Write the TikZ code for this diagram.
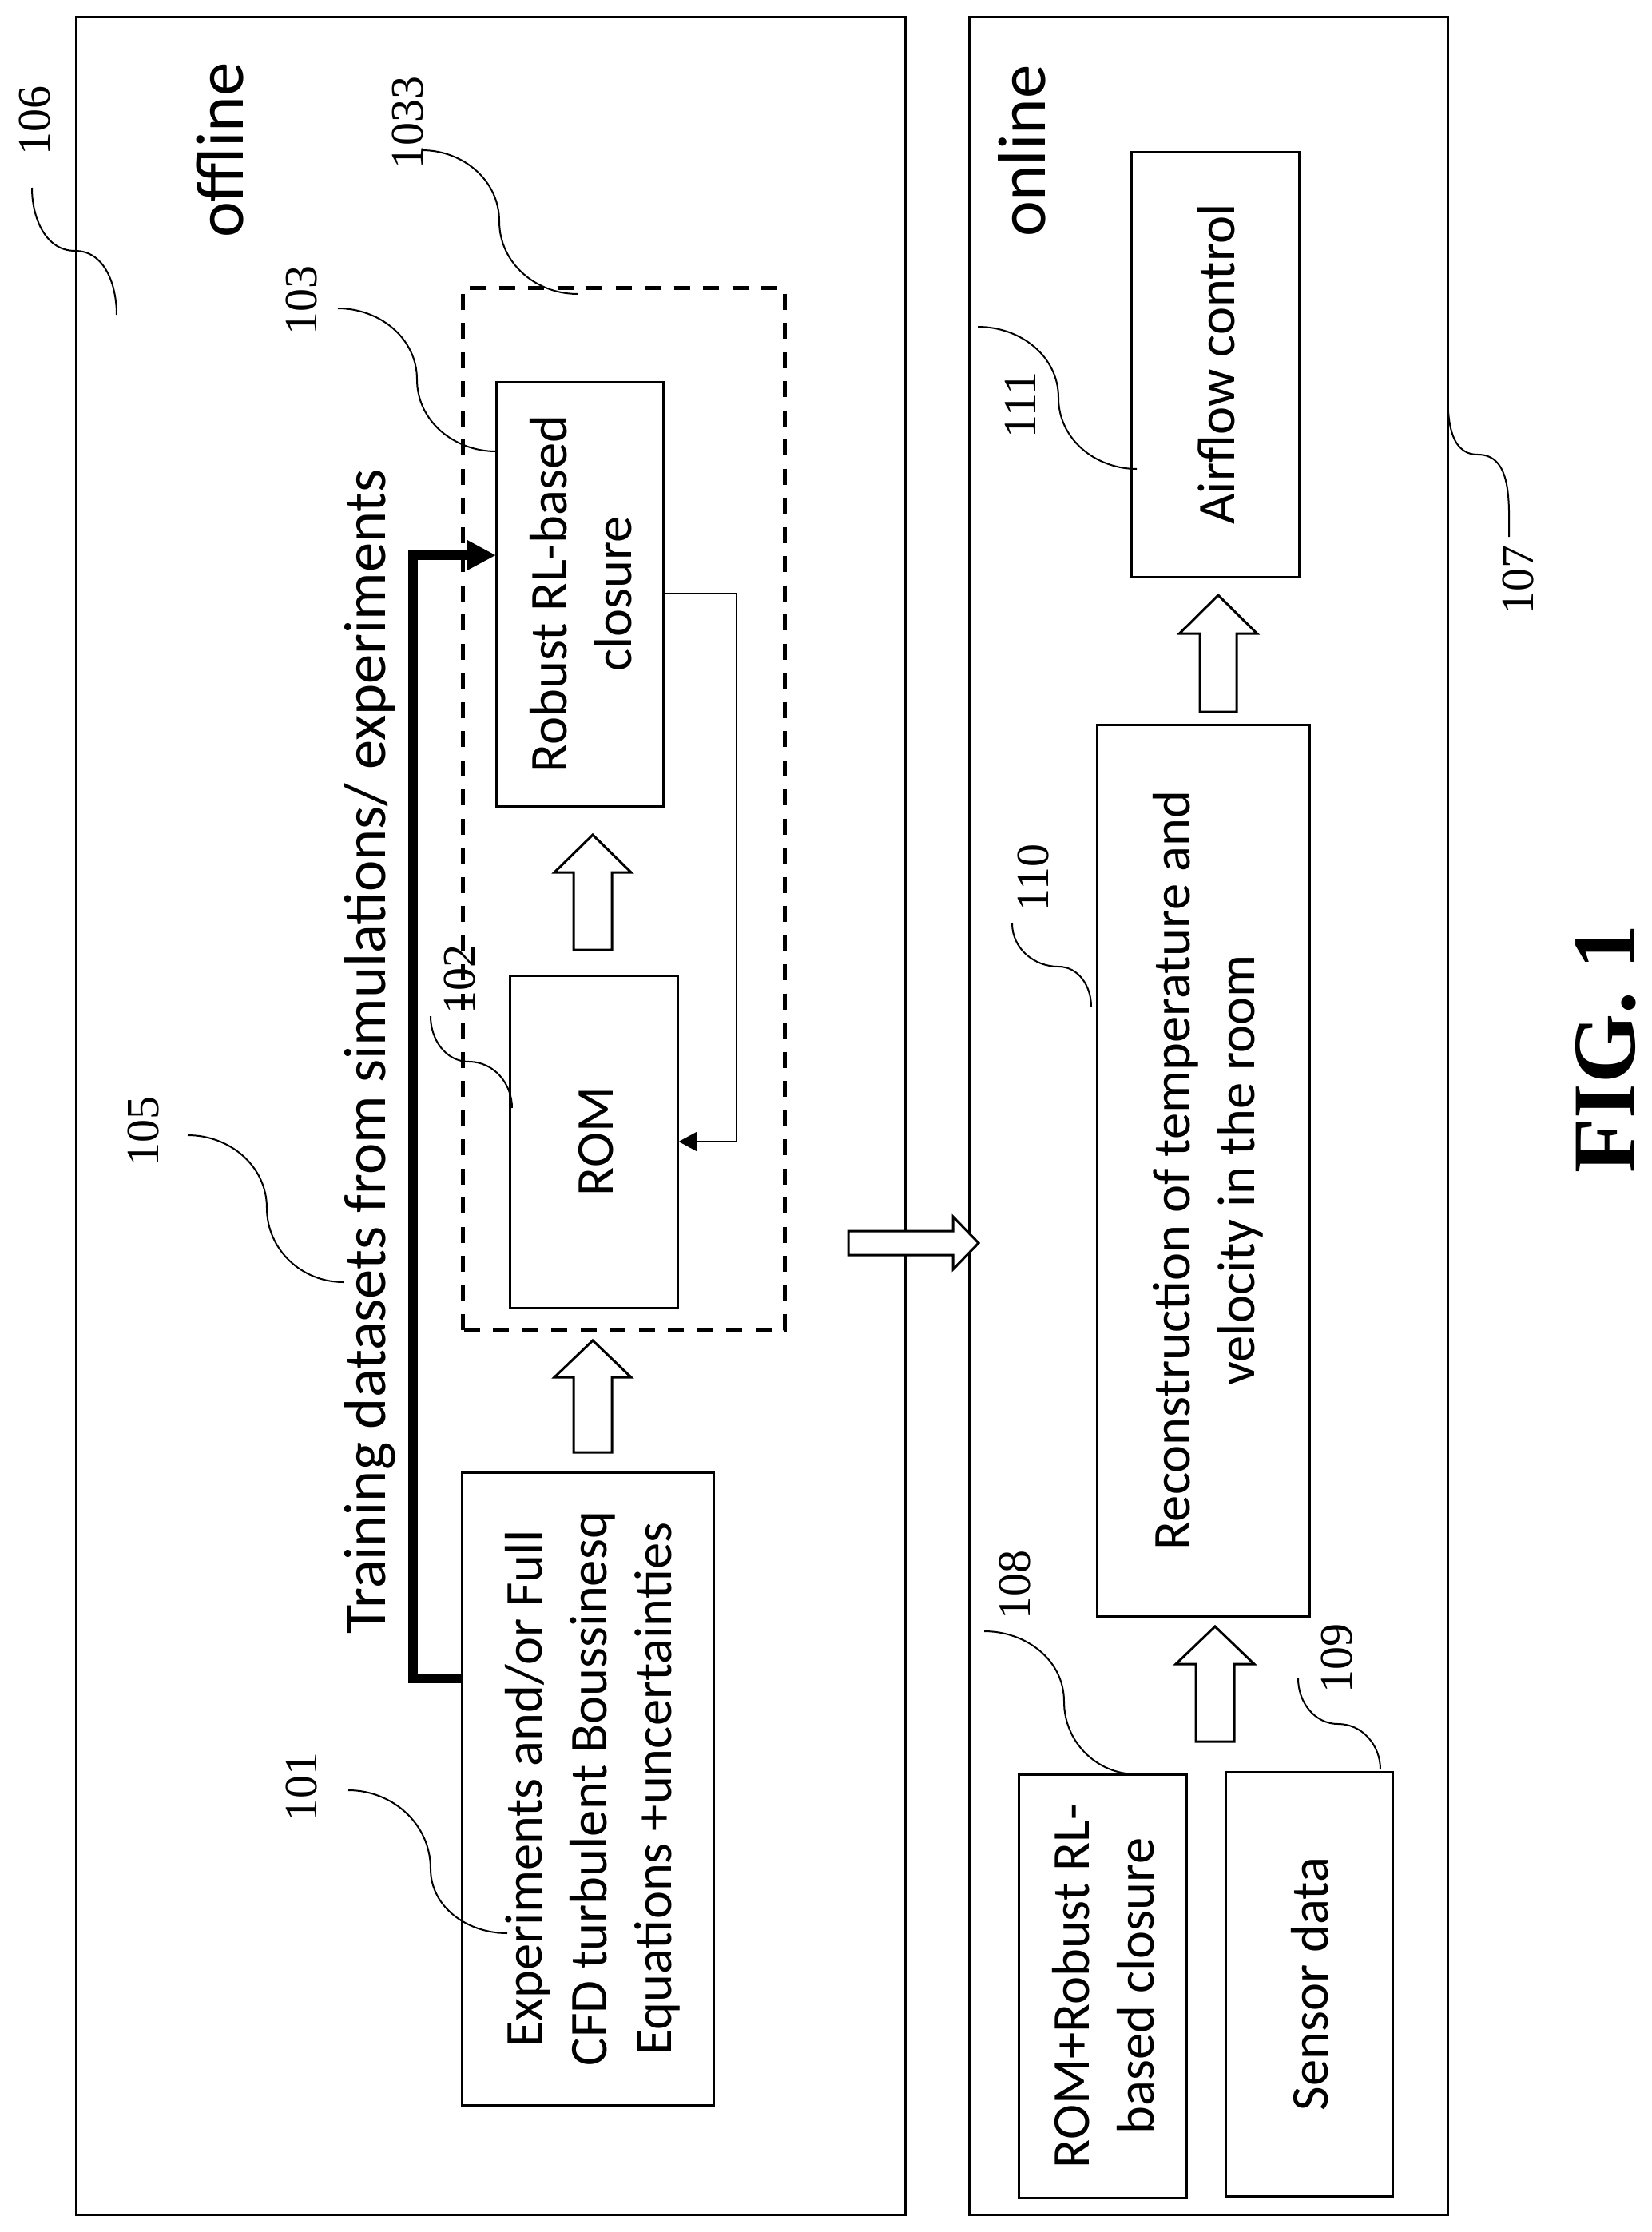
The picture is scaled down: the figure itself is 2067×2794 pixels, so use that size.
\documentclass[tikz,border=0pt]{standalone}
\usepackage{fontspec}
\usetikzlibrary{arrows.meta}
\setmainfont{Carlito}
\newfontfamily\numfont{Liberation Serif}
\newcommand{\rt}[1]{\kern16pt\rotatebox{90}{\begin{tabular}{@{}c@{}}#1\end{tabular}}}
\newcommand{\blockup}[6]{\draw[blockarrow] (#1,#2) -- (#1+#5,#3) -- (#1+#6,#3) -- (#1+#6,#4) -- (#1-#6,#4) -- (#1-#6,#3) -- (#1-#5,#3) -- cycle;}
\tikzset{
 frame/.style={draw=black,line width=3pt,fill=none},
 boxn/.style={draw=black,line width=3pt,fill=white,inner sep=0pt,font=\fontsize{66.5}{81}\selectfont},
 blockarrow/.style={draw=black,line width=3pt,fill=white,miter limit=10},
 leader/.style={draw=black,line width=2pt},
 num/.style={font=\numfont\fontsize{58}{58}\selectfont,rotate=90,inner sep=0pt},
 captxt/.style={font=\fontsize{74.5}{74.5}\selectfont,rotate=90,inner sep=0pt},
 captbig/.style={font=\fontsize{85}{85}\selectfont,rotate=90,inner sep=0pt},
}
\begin{document}
\begin{tikzpicture}[x=1pt,y=-1pt]
\useasboundingbox (0,0) rectangle (2067,2794);
\node[frame,minimum width=1038pt,minimum height=2750pt,inner sep=0pt] (offbox) at (614,1397) {};
\node[frame,minimum width=599pt,minimum height=2750pt,inner sep=0pt] (onbox) at (1512.5,1397) {};
\draw[black,line width=5pt,dash pattern=on 20pt off 16.5pt] (579,1665) -- (579,360) -- (982,360) -- (982,1665) -- cycle;
\node[boxn,minimum width=209pt,minimum height=531pt] (closure) at (725.5,743.5) {\rt{Robust RL-based\\closure}};
\node[boxn,minimum width=210pt,minimum height=416pt] (rom) at (743,1429) {\rt{ROM}};
\node[boxn,minimum width=315pt,minimum height=792pt] (exp) at (735.5,2239) {\rt{Experiments and/or Full\\CFD turbulent Boussinesq\\Equations +uncertainties}};
\node[boxn,minimum width=210pt,minimum height=532pt] (air) at (1521,456) {\rt{Airflow control}};
\node[boxn,minimum width=266pt,minimum height=1116pt] (recon) at (1506,1465) {\rt{Reconstruction of temperature and\\velocity in the room}};
\node[boxn,minimum width=210pt,minimum height=530pt] (romplus) at (1380,2486) {\rt{ROM+Robust RL-\\based closure}};
\node[boxn,minimum width=209pt,minimum height=531pt] (sensor) at (1638.5,2483.5) {\rt{Sensor data}};
\blockup{742}{1045}{1092}{1189}{48}{24}
\blockup{742}{1678}{1724}{1818}{48}{24}
\blockup{1521}{2036}{2083}{2180}{49}{24}
\blockup{1525}{745}{793}{891}{48.5}{23}
\draw[blockarrow] (1225,1556) -- (1193,1523) -- (1193,1541) -- (1062,1541) -- (1062,1571) -- (1193,1571) -- (1193,1589) -- cycle;
\coordinate (ts) at (578,2101);
\coordinate (tb) at (517,2101);
\coordinate (tt) at (517,695);
\coordinate (te) at (621,695);
\draw[line width=12pt,-{Triangle[length=36pt,width=35pt]}] (ts) -- (tb) -- (tt) -- (te);
\coordinate (fa) at (830,743);
\coordinate (fb) at (922,743);
\coordinate (fc) at (922,1429);
\draw[line width=2.8pt,-{Triangle[length=23pt,width=24pt]}] (fa) -- (fb) -- (fc) -- (rom.east);
\node[captbig] (offline) at (276,188) {offline};
\node[captbig] (online) at (1279,189) {online};
\node[captxt] (training) at (463,1316) {Training datasets from simulations/ experiments};
\node[num] (n106) at (43,151) {106};
\node[num] (n1033) at (510,153) {1033};
\node[num] (n103) at (377,376) {103};
\node[num] (n102) at (575,1226) {102};
\node[num] (n105) at (179,1416) {105};
\node[num] (n101) at (377,2237) {101};
\node[num] (n108) at (1270,1984) {108};
\node[num] (n109) at (1673,2076) {109};
\node[num] (n110) at (1293,1099) {110};
\node[num] (n111) at (1277,507) {111};
\node[num] (n107) at (1900,726) {107};
\node[font=\numfont\bfseries\fontsize{112}{112}\selectfont,rotate=90,inner sep=0pt] (fig) at (2010,1313) {FIG. 1};
% leaders: vertical-horizontal-vertical and horizontal-vertical-horizontal
\draw[leader] (40,235) to[out=-90,in=180] (94,314) to[out=0,in=90] (146,394);
\draw[leader] (528,188) to[out=0,in=90] (625,277) to[out=-90,in=180] (723,368);
\draw[leader] (423,386) to[out=0,in=90] (522,475) to[out=-90,in=180] (621,565);
\draw[leader] (539,1272) to[out=-90,in=180] (587,1329) to[out=0,in=90] (641,1387);
\draw[leader] (235,1421) to[out=0,in=90] (334,1512) to[out=-90,in=180] (430,1605);
\draw[leader] (436,2241) to[out=0,in=90] (539,2339) to[out=-90,in=180] (635,2420);
\draw[leader] (1232,2042) to[out=0,in=90] (1332,2130) to[out=-90,in=180] (1423,2221);
\draw[leader] (1625,2101) to[out=-90,in=180] (1675,2158) to[out=0,in=90] (1728,2215);
\draw[leader] (1267,1156) to[out=-90,in=180] (1325,1210) to[out=0,in=90] (1366,1260);
\draw[leader] (1224,409) to[out=0,in=90] (1325,498) to[out=-90,in=180] (1423,587);
\draw[leader] (1812,477) to[out=-90,in=180] (1850,569) to[out=0,in=90] (1889,672);
\end{tikzpicture}
\end{document}
